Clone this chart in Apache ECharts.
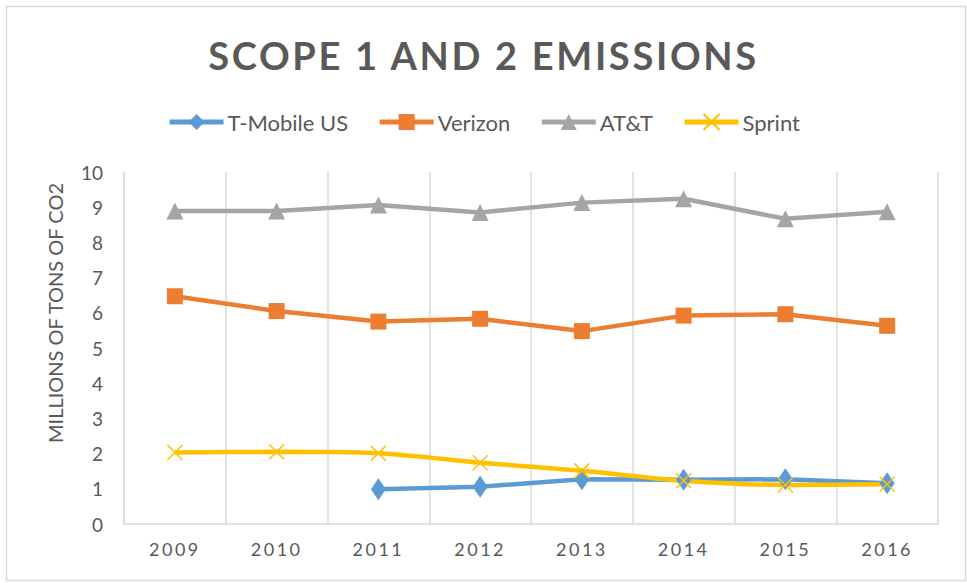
<!DOCTYPE html>
<html>
<head>
<meta charset="utf-8">
<script src="https://cdn.jsdelivr.net/npm/echarts@6/dist/echarts.min.js"></script>
<style>
  html, body { margin: 0; padding: 0; background: #fff; }
  #main { width: 967px; height: 583px; }
</style>
</head>
<body>
<div id="main"></div>
<script>
// chart data
var titleText = 'SCOPE 1 AND 2 EMISSIONS';
var years = ['2009', '2010', '2011', '2012', '2013', '2014', '2015', '2016'];
var tmobile = [null, null, 0.99, 1.06, 1.27, 1.26, 1.27, 1.16];
var verizon = [6.47, 6.05, 5.75, 5.83, 5.48, 5.92, 5.96, 5.63];
var att = [8.89, 8.89, 9.06, 8.85, 9.13, 9.24, 8.67, 8.87];
var sprint = [2.03, 2.05, 2.01, 1.74, 1.51, 1.23, 1.11, 1.13];

var textColor = '#595959';
var gridColor = '#d9d9d9';
var font = 'Lato, "Open Sans", sans-serif';

var chart = echarts.init(document.getElementById('main'), null, { renderer: 'svg' });

function lineSeries(name, data, color, symbol, size, extra) {
  var s = {
    name: name,
    type: 'line',
    data: data,
    symbol: symbol,
    symbolSize: size,
    lineStyle: { color: color, width: 4.5 },
    itemStyle: { color: color },
    connectNulls: false
  };
  for (var k in extra) s[k] = extra[k];
  return s;
}

var option = {
  backgroundColor: '#fff',
  animation: false,
  title: {
    text: titleText,
    left: 'center',
    top: 31,
    textStyle: { fontFamily: font, fontWeight: 'bold', fontSize: 38, color: textColor }
  },
  legend: {
    top: 106,
    left: 'center',
    itemWidth: 54,
    itemHeight: 20,
    itemGap: 29,
    lineStyle: { width: 5 },
    textStyle: { fontFamily: font, fontSize: 22, color: textColor, padding: [0, 0, 0, -1] },
    data: ['T-Mobile US', 'Verizon', 'AT&T', 'Sprint']
  },
  graphic: [{
    type: 'rect',
    shape: { x: 6.5, y: 6.5, width: 959, height: 574 },
    style: { fill: 'none', stroke: gridColor, lineWidth: 1.5 },
    silent: true
  }],
  grid: { left: 124, right: 29, top: 172, bottom: 59 },
  xAxis: {
    type: 'category',
    data: years,
    boundaryGap: true,
    axisLine: { lineStyle: { color: gridColor, width: 1.5 } },
    axisTick: { show: false },
    splitLine: { show: true, lineStyle: { color: gridColor, width: 1.5 } },
    axisLabel: { fontFamily: font, fontSize: 18, color: textColor, margin: 16 }
  },
  yAxis: {
    type: 'value',
    min: 0,
    max: 10,
    interval: 1,
    name: 'MILLIONS OF TONS OF CO2',
    nameLocation: 'middle',
    nameGap: 59,
    nameTextStyle: { fontFamily: font, fontSize: 20, color: textColor, padding: [0, 0, 0, 70] },
    axisLine: { show: true, lineStyle: { color: gridColor, width: 1.5 } },
    axisTick: { show: false },
    splitLine: { show: false },
    axisLabel: { fontFamily: font, fontSize: 19, color: textColor, margin: 21 }
  },
  series: [
    lineSeries('T-Mobile US', tmobile, '#5B9BD5', 'diamond', [15, 22], {}),
    lineSeries('Verizon', verizon, '#ED7D31', 'rect', 16, {}),
    lineSeries('AT&T', att, '#A5A5A5', 'triangle', 17, {}),
    lineSeries('Sprint', sprint, '#FFC000', 'path://M0,0L10,10M10,0L0,10', 15, {
      smooth: 0.3,
      itemStyle: { color: '#FFC000', borderColor: '#FFC000', borderWidth: 1.5 }
    })
  ]
};

chart.setOption(option);

// letter spacing like the original (svg text)
document.querySelectorAll('#main text').forEach(function (t) {
  var s = t.textContent;
  if (s === titleText) t.style.letterSpacing = '2.7px';
  else if (years.indexOf(s) >= 0) t.style.letterSpacing = '2.5px';
});
</script>
</body>
</html>
